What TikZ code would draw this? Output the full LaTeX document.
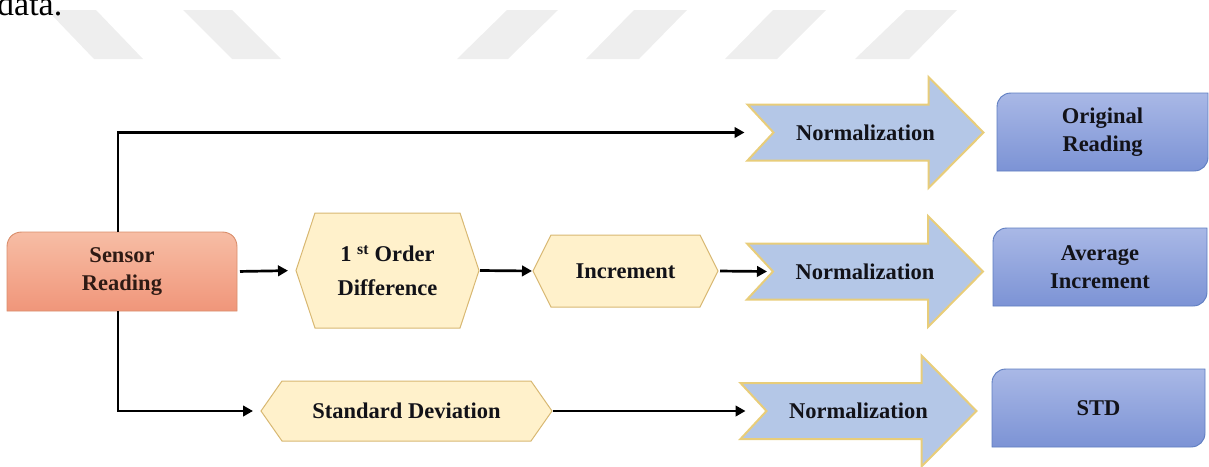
\documentclass[tikz,border=0pt]{standalone}
\usepackage{fontspec}
\setmainfont{Liberation Serif}
\usetikzlibrary{calc,arrows.meta,backgrounds}

\definecolor{salmonTop}{HTML}{F7BDA5}
\definecolor{salmonBot}{HTML}{F0967A}
\definecolor{salmonEdge}{HTML}{D98E6C}
\definecolor{hexFill}{HTML}{FFF1CB}
\definecolor{hexEdge}{HTML}{D8B872}
\definecolor{normFill}{HTML}{B4C7E7}
\definecolor{normEdge}{HTML}{E8CD7A}
\definecolor{resTop}{HTML}{A9B8E6}
\definecolor{resBot}{HTML}{7C93D5}
\definecolor{resEdge}{HTML}{5E7DC1}
\definecolor{inkText}{HTML}{121218}
\definecolor{inkWarm}{HTML}{2E1A14}
\definecolor{stripe}{HTML}{EEEEEE}

\begin{document}
\begin{tikzpicture}[x=1pt,y=-1pt,
  lbl/.style={font=\fontsize{22.5}{28}\selectfont\bfseries, text=inkText,
    align=center, inner sep=0pt, outer sep=0pt},
  sensorbox/.style={lbl, text=inkWarm, minimum width=230pt, minimum height=79pt},
  hexbox/.style={lbl},
  normbox/.style={lbl, minimum width=236pt, minimum height=111pt},
  resultbox/.style={lbl, minimum width=212pt, minimum height=78pt},
  link/.style={line width=2.7pt, draw=black, -{Triangle[length=10pt,width=10.5pt]}},
  hexshape/.style={fill=hexFill, draw=hexEdge, line width=1pt},
  normshape/.style={fill=normFill, draw=normEdge, line width=2pt, line join=miter},
  resshape/.style={top color=resTop, bottom color=resBot, draw=resEdge, line width=0.9pt},
  sensorshape/.style={top color=salmonTop, bottom color=salmonBot, draw=salmonEdge, line width=0.9pt},
]
\useasboundingbox (0,0) rectangle (1209,466);

% light grey diagonal bands along the top
\fill[stripe] (47,10) -- (96,10) -- (143,59) -- (94,59) -- cycle;
\fill[stripe] (183,10) -- (232,10) -- (281,59) -- (232,59) -- cycle;
\fill[stripe] (507,10) -- (558,10) -- (508,59) -- (457,59) -- cycle;
\fill[stripe] (634,10) -- (687,10) -- (639,59) -- (586,59) -- cycle;
\fill[stripe] (773,10) -- (826,10) -- (777,59) -- (725,59) -- cycle;
\fill[stripe] (906,10) -- (957,10) -- (909,59) -- (855,59) -- cycle;

% line of text above the figure, cut by the page edge
\node[anchor=base west, inner sep=0pt, font=\fontsize{34}{34}\selectfont] (caption) at (-3,15) {data.};

% ---- nodes ----
\node[sensorbox] (sensor) at (122,271.5) {Sensor\\Reading};
\node[hexbox, minimum width=183pt, minimum height=115pt] (diff) at (387.5,270.5)
  {1 \textsuperscript{st} Order\\[6pt]Difference};
\node[hexbox, minimum width=185pt, minimum height=72pt] (inc) at (625.5,271) {Increment};
\node[hexbox, minimum width=291pt, minimum height=60pt] (sd) at (406.5,411) {Standard Deviation};

\node[normbox] (norm1) at (865.5,132.5) {Normalization};
\node[normbox] (norm2) at (865,271.5) {Normalization};
\node[normbox] (norm3) at (858.5,411) {Normalization};

\node[resultbox, minimum width=211pt] (ori) at (1102.5,132) {Original\\Reading};
\node[resultbox, minimum width=214pt] (avg) at (1100,267) {Average\\Increment};
\node[resultbox, minimum width=213pt] (std) at (1098.5,408) {STD};

% ---- shapes behind the labels ----
\begin{scope}[on background layer]
  % source box: rounded top corners
  \path[sensorshape] (sensor.south west) -- ($(sensor.north west)+(0,15)$)
    .. controls ($(sensor.north west)+(0,6)$) and ($(sensor.north west)+(6,0)$) .. ($(sensor.north west)+(15,0)$)
    -- ($(sensor.north east)+(-15,0)$)
    .. controls ($(sensor.north east)+(-6,0)$) and ($(sensor.north east)+(0,6)$) .. ($(sensor.north east)+(0,15)$)
    -- (sensor.south east) -- cycle;

  % hexagons
  \foreach \h/\d in {diff/19, inc/18, sd/21}{
    \path[hexshape] (\h.west) -- ($(\h.north west)+(\d,0)$) -- ($(\h.north east)+(-\d,0)$)
      -- (\h.east) -- ($(\h.south east)+(-\d,0)$) -- ($(\h.south west)+(\d,0)$) -- cycle;
  }

  % notched block arrows
  \foreach \n in {norm1, norm2, norm3}{
    \path[normshape] ($(\n.west)+(26,0)$) -- ($(\n.west)+(0,-28)$) -- ($(\n.east)+(-55,-28)$)
      -- ($(\n.north east)+(-55,0)$) -- (\n.east) -- ($(\n.south east)+(-55,0)$)
      -- ($(\n.east)+(-55,28)$) -- ($(\n.west)+(0,28)$) -- cycle;
  }

  % result boxes: rounded top-left and bottom-right corners
  \foreach \r in {ori, avg, std}{
    \path[resshape] (\r.south west) -- ($(\r.north west)+(0,14)$)
      .. controls ($(\r.north west)+(0,6)$) and ($(\r.north west)+(6,0)$) .. ($(\r.north west)+(14,0)$)
      -- (\r.north east) -- ($(\r.south east)+(0,-14)$)
      .. controls ($(\r.south east)+(0,-6)$) and ($(\r.south east)+(-6,0)$) .. ($(\r.south east)+(-14,0)$)
      -- cycle;
  }
\end{scope}

% ---- connectors ----
\draw[link, shorten >=3pt] ($(sensor.north)+(-4,0)$) |- (norm1.west);
\draw[link, shorten >=8pt] ($(sensor.south)+(-4,0)$) |- (sd.west);
\draw[link, shorten <=3pt, shorten >=8pt] (sensor.east) -- (diff.west);
\draw[link, shorten <=1pt, shorten >=1pt] (diff.east) -- (inc.west);
\draw[link, shorten <=2pt] (inc.east) -- ($(norm2.west)+(20,0)$);
\draw[link, shorten <=1pt] (sd.east) -- ($(norm3.west)+(5,0)$);
\end{tikzpicture}
\end{document}
